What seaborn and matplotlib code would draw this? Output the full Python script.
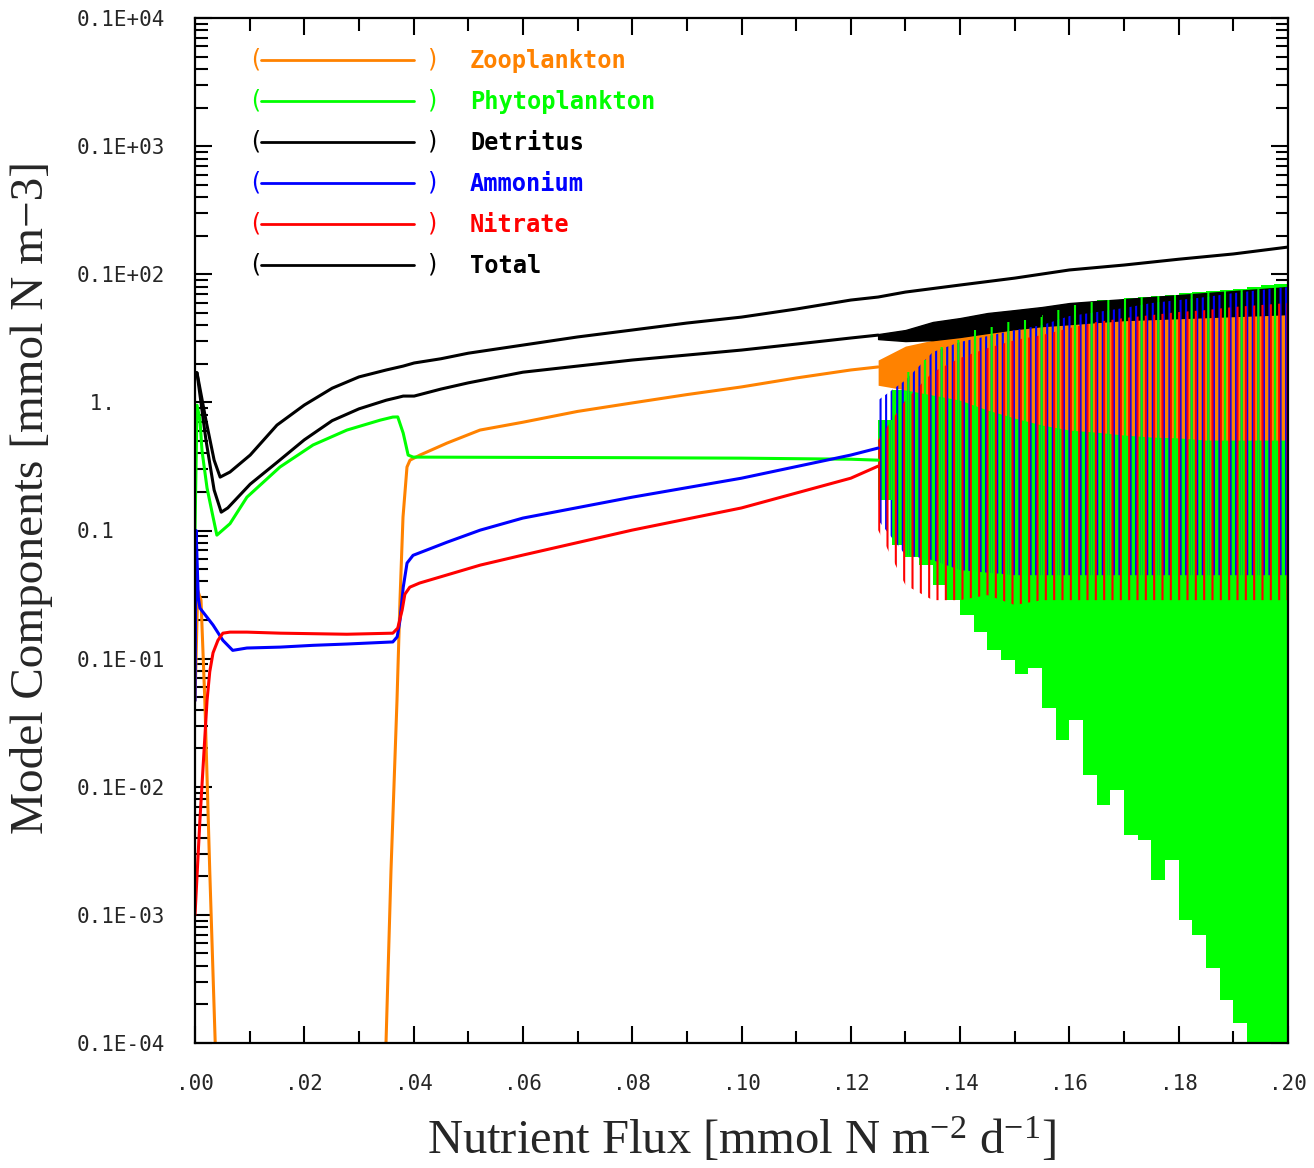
import numpy as np
import pandas as pd
import matplotlib
matplotlib.use("Agg")
import matplotlib.pyplot as plt
import seaborn as sns
from matplotlib.lines import Line2D
from matplotlib.font_manager import FontProperties
from matplotlib.ticker import LogLocator, NullFormatter, MultipleLocator

# ---------------- data ----------------
components = ["Zooplankton", "Phytoplankton", "Detritus", "Ammonium", "Nitrate", "Total"]
palette = {"Zooplankton": "#ff8200", "Phytoplankton": "#00ff00", "Detritus": "#000000",
           "Ammonium": "#0000ff", "Nitrate": "#ff0000", "Total": "#000000"}

# steady-state branch (flux < 0.125)
zoo_x = [0.0, 0.0005, 0.0011, 0.0018, 0.0027, 0.0037, 0.0042, 0.0345, 0.03495, 0.03586,
         0.03696, 0.03751, 0.03806, 0.03879, 0.03934, 0.04117, 0.04611, 0.05215, 0.06, 0.07,
         0.08, 0.09, 0.10, 0.11, 0.12, 0.125]
zoo_y = [0.0047, 0.034, 0.0286, 0.0047, 0.00022, 1e-5, 1e-7, 1e-7, 1e-5, 0.00022,
         0.0047, 0.0286, 0.127, 0.313, 0.354, 0.388, 0.481, 0.608, 0.70, 0.85,
         0.99, 1.15, 1.32, 1.55, 1.79, 1.89]

phy_x = [0.0, 0.00037, 0.00091, 0.00128, 0.0022, 0.0031, 0.0040, 0.0064, 0.0095, 0.01555,
         0.0216, 0.0278, 0.0339, 0.0362, 0.0371, 0.0381, 0.0390, 0.0399, 0.06, 0.08,
         0.10, 0.12, 0.125]
phy_y = [0.1, 0.95, 0.73, 0.42, 0.215, 0.14, 0.092, 0.113, 0.182, 0.313,
         0.465, 0.608, 0.727, 0.768, 0.77, 0.575, 0.388, 0.374, 0.372, 0.37,
         0.367, 0.36, 0.354]

det_x = [0.0, 0.00037, 0.0020, 0.0035, 0.0048, 0.0060, 0.0101, 0.0150, 0.0200, 0.0251,
         0.0300, 0.0350, 0.0370, 0.0381, 0.0401, 0.0450, 0.0500, 0.06, 0.07, 0.08,
         0.09, 0.10, 0.11, 0.12, 0.125]
det_y = [1.7, 1.7, 0.51, 0.207, 0.139, 0.15, 0.23, 0.34, 0.51, 0.72,
         0.89, 1.04, 1.09, 1.12, 1.12, 1.27, 1.42, 1.72, 1.92, 2.14,
         2.34, 2.56, 2.85, 3.18, 3.35]

amm_x = [0.0, 0.0002, 0.0006, 0.0009, 0.0033, 0.0051, 0.0069, 0.0095, 0.0156, 0.0216,
         0.0278, 0.0362, 0.0370, 0.0375, 0.0381, 0.0388, 0.0399, 0.0461, 0.0522, 0.06,
         0.08, 0.10, 0.12, 0.125]
amm_y = [0.0047, 0.1, 0.03, 0.0248, 0.0183, 0.0139, 0.0116, 0.0121, 0.0123, 0.0127,
         0.013, 0.0135, 0.0148, 0.0198, 0.036, 0.0557, 0.064, 0.081, 0.1007, 0.125,
         0.182, 0.256, 0.388, 0.44]

nit_x = [0.0, 0.0009, 0.0022, 0.0027, 0.0033, 0.0042, 0.0051, 0.0064, 0.0095,
         0.0156, 0.0278, 0.0362, 0.0371, 0.0379, 0.0384, 0.0393, 0.0411, 0.0522, 0.06,
         0.08, 0.10, 0.12, 0.125]
nit_y = [0.0001, 0.00055, 0.0047, 0.0079, 0.0111, 0.0139, 0.0158, 0.0161, 0.0161,
         0.0158, 0.0155, 0.0158, 0.0173, 0.0239, 0.0318, 0.0361, 0.0389, 0.0537, 0.0643,
         0.1007, 0.150, 0.256, 0.318]

tot_x = [0.0, 0.00037, 0.0020, 0.0035, 0.0046, 0.0064, 0.0101, 0.0150, 0.0200, 0.0251,
         0.0300, 0.0350, 0.0381, 0.0401, 0.0450, 0.0500, 0.06, 0.07, 0.08, 0.09,
         0.10, 0.11, 0.12, 0.125, 0.13, 0.14, 0.15, 0.16, 0.17, 0.18,
         0.19, 0.20]
tot_y = [1.72, 1.70, 0.727, 0.354, 0.261, 0.286, 0.388, 0.665, 0.953, 1.29,
         1.58, 1.79, 1.92, 2.03, 2.19, 2.42, 2.80, 3.24, 3.67, 4.16,
         4.63, 5.35, 6.29, 6.64, 7.26, 8.24, 9.33, 10.8, 11.8, 13.1,
         14.4, 16.3]

# oscillating branch (flux >= 0.125): envelopes of the oscillations
phy_osc_x = [0.1250, 0.1275, 0.1300, 0.1325, 0.1350, 0.1375, 0.1400, 0.1425, 0.1450, 0.1475,
             0.1500, 0.1525, 0.1550, 0.1575, 0.1600, 0.1625, 0.1650, 0.1675, 0.1700, 0.1725,
             0.1750, 0.1775, 0.1800, 0.1825, 0.1850, 0.1875, 0.1900, 0.1925, 0.1950, 0.1975,
             0.2000]
phy_osc_lo = [0.173, 0.0769, 0.0620, 0.0537, 0.0375, 0.0286, 0.0219, 0.0161, 0.0116, 0.00973,
              0.00757, 0.00843, 0.00411, 0.00231, 0.00331, 0.00123, 0.000718, 0.00094, 0.000419, 0.000383,
              0.000187, 0.000267, 0.000091, 0.0000695, 0.0000384, 0.0000216, 0.0000143, 5e-6, 5e-6, 5e-6,
              5e-6]
phy_osc_hi = [0.727, 1.25, 1.72, 2.14, 2.70, 3.06, 3.48, 3.67, 3.87, 4.24,
              4.39, 4.63, 4.80, 5.25, 5.75, 6.07, 6.29, 6.29, 6.52, 6.64,
              6.76, 6.88, 7.13, 7.26, 7.39, 7.53, 7.66, 7.95, 8.24, 8.39,
              8.54]

osc_x = [0.125, 0.130, 0.135, 0.140, 0.145, 0.150, 0.155, 0.160, 0.165, 0.170,
         0.175, 0.180, 0.185, 0.190, 0.195, 0.200]
amm_osc_lo = [0.1205, 0.0643, 0.0587, 0.0491, 0.0469, 0.0448, 0.0448, 0.0448, 0.0448, 0.0448,
              0.0448, 0.0448, 0.0448, 0.0448, 0.0448, 0.0448]
amm_osc_hi = [1.04, 1.49, 2.47, 2.96, 3.29, 3.67, 4.01, 4.72, 5.07, 5.45,
              5.96, 6.29, 6.64, 7.13, 7.53, 7.95]
nit_osc_lo = [0.1007, 0.0375, 0.0286, 0.0286, 0.0313, 0.0262, 0.0286, 0.0286, 0.0286, 0.0286,
              0.0286, 0.0286, 0.0286, 0.0286, 0.0286, 0.0286]
nit_osc_hi = [0.508, 1.04, 1.72, 2.22, 2.65, 3.06, 3.35, 3.80, 4.24, 4.55,
              4.80, 5.07, 5.25, 5.55, 5.75, 5.96]
zoo_osc_lo = [1.36, 1.25, 1.14, 1.04, 0.871, 0.754, 0.665, 0.608, 0.585, 0.556,
              0.536, 0.528, 0.508, 0.508, 0.508, 0.508]
zoo_osc_hi = [2.14, 2.75, 3.06, 3.35, 3.67, 3.94, 4.16, 4.39, 4.55, 4.72,
              4.89, 5.07, 5.25, 5.45, 5.65, 5.75]
det_osc_lo = [3.12, 3.01, 3.06, 3.24, 3.48, 3.73, 3.94, 4.08, 4.24, 4.39,
              4.47, 4.55, 4.63, 4.72, 4.80, 4.89]
det_osc_hi = [3.41, 3.67, 4.24, 4.55, 4.98, 5.25, 5.55, 5.96, 6.18, 6.40,
              6.64, 6.88, 7.13, 7.39, 7.66, 7.95]

xtick_vals = [0.00, 0.02, 0.04, 0.06, 0.08, 0.10, 0.12, 0.14, 0.16, 0.18, 0.20]
xtick_labels = [".00", ".02", ".04", ".06", ".08", ".10", ".12", ".14", ".16", ".18", ".20"]
ytick_vals = [1e3, 1e2, 1e1, 1.0, 0.1, 1e-2, 1e-3, 1e-4, 1e-5]
ytick_labels = ["0.1E+04", "0.1E+03", "0.1E+02", " 1.", "0.1", "0.1E-01", "0.1E-02",
                "0.1E-03", "0.1E-04"]

# ---------------- style ----------------
sns.set_style("ticks")
plt.rcParams.update({
    "font.family": ["DejaVu Sans Mono", "DejaVu Sans"],
    "hatch.linewidth": 1.5,
    "axes.linewidth": 1.6,
    "axes.edgecolor": "black",
    "mathtext.fontset": "custom",
    "mathtext.rm": "Liberation Serif",
    "mathtext.default": "rm",
})

W, H = 1314, 1168
fig = plt.figure(figsize=(W / 100, H / 100), dpi=100, facecolor="white")
ax = fig.add_axes([195 / W, 1 - 1043 / H, 1093 / W, 1025 / H])

series = [("Zooplankton", zoo_x, zoo_y), ("Phytoplankton", phy_x, phy_y),
          ("Detritus", det_x, det_y), ("Ammonium", amm_x, amm_y),
          ("Nitrate", nit_x, nit_y), ("Total", tot_x, tot_y)]
df = pd.concat([pd.DataFrame({"flux": xs, "conc": ys, "component": name})
                for name, xs, ys in series], ignore_index=True)

# oscillation envelopes
ax.fill_between(phy_osc_x, phy_osc_lo, phy_osc_hi, step="post",
                color=palette["Phytoplankton"], lw=0, zorder=2)
ax.fill_between(osc_x, zoo_osc_lo, zoo_osc_hi, color=palette["Zooplankton"], lw=0, zorder=3)
ax.fill_between(osc_x, det_osc_lo, det_osc_hi, color="black", lw=1.0, zorder=3.5)
ax.fill_between(osc_x, amm_osc_lo, amm_osc_hi, facecolor="none",
                edgecolor=palette["Ammonium"], hatch="|||", lw=0, zorder=4)
ax.fill_between(osc_x, nit_osc_lo, nit_osc_hi, facecolor="none",
                edgecolor=palette["Nitrate"], hatch="||", lw=0, zorder=5)
ax.fill_between(phy_osc_x, phy_osc_lo, phy_osc_hi, step="post", facecolor="none",
                edgecolor=palette["Phytoplankton"], hatch="|", lw=0, zorder=6)

sns.lineplot(data=df, x="flux", y="conc", hue="component", hue_order=components,
             palette=palette, estimator=None, sort=False, legend=False,
             lw=2.2, ax=ax, zorder=8)

ax.set_yscale("log")
ax.set_xlim(0, 0.2)
ax.set_ylim(1e-5, 1e3)
ax.set_xlabel("")
ax.set_ylabel("")

tick_font = {"family": "DejaVu Sans Mono", "size": 15}
ax.set_xticks(xtick_vals, labels=xtick_labels, **tick_font)
ax.xaxis.set_minor_locator(MultipleLocator(0.01))
ax.set_yticks(ytick_vals, labels=ytick_labels, ha="left", **tick_font)
ax.yaxis.set_minor_locator(LogLocator(base=10, subs=np.arange(2, 10), numticks=30))
ax.yaxis.set_minor_formatter(NullFormatter())
ax.tick_params(which="both", direction="in", top=True, right=True, width=1.5, color="black")
ax.tick_params(which="major", length=12.5)
ax.tick_params(which="minor", length=9)
ax.tick_params(axis="y", which="major", pad=85)
ax.tick_params(axis="x", which="major", pad=22)
for s in ax.spines.values():
    s.set_linewidth(1.6)
    s.set_zorder(10)

# axis titles
fig.text(32 / W, 1 - 497 / H, "Model Components [mmol N m\u22123]", rotation=90,
         ha="center", va="center", family="Liberation Serif", fontsize=34)
fig.text(741 / W, 1 - 1140 / H, "Nutrient Flux [mmol N m$^{-2}$ d$^{-1}$]",
         ha="center", va="center", family="Liberation Serif", fontsize=35)

# legend
leg_font = FontProperties(family="DejaVu Sans Mono", weight="bold", size=17)
paren_font = FontProperties(family="DejaVu Sans Mono", weight="normal", size=17)
handles = [Line2D([], [], color=palette[c], lw=2.0) for c in components]
leg = ax.legend(handles, components, loc="upper left", bbox_to_anchor=(0.0604, 0.9698),
                frameon=False, prop=leg_font, handlelength=6.5, handletextpad=2.35,
                labelspacing=0.72, borderpad=0, borderaxespad=0)
for t, c in zip(leg.get_texts(), components):
    t.set_color(palette[c])
leg.set_zorder(20)

fig.canvas.draw()
renderer = fig.canvas.get_renderer()
inv = fig.transFigure.inverted()
for ln, c in zip(leg.get_lines(), components):
    bb = ln.get_window_extent(renderer)
    yc = (bb.y0 + bb.y1) / 2
    x0, y0 = inv.transform((bb.x0 + 1, yc))
    x1, _ = inv.transform((bb.x1 + 11, yc))
    fig.text(x0, y0, "(", ha="right", va="center", color=palette[c], fontproperties=paren_font)
    fig.text(x1, y0, ")", ha="left", va="center", color=palette[c], fontproperties=paren_font)

fig.savefig("out.png", dpi=100, facecolor="white")
